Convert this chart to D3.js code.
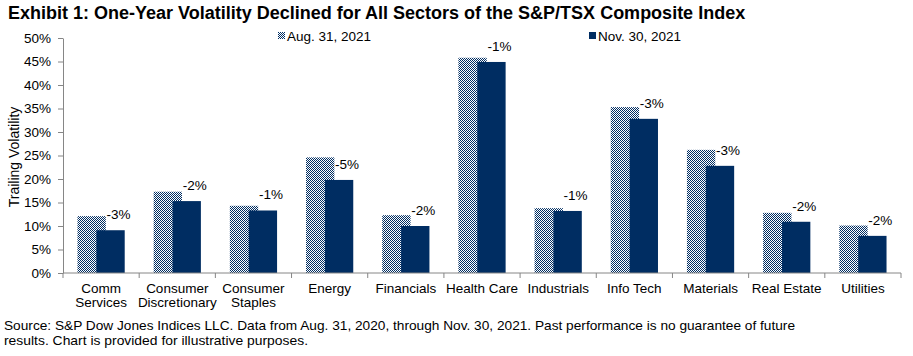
<!DOCTYPE html>
<html><head><meta charset="utf-8">
<script src="https://cdn.jsdelivr.net/npm/d3@7"></script>
<style>body{margin:0;background:#fff}svg{display:block;font-family:"Liberation Sans",Arial,sans-serif}</style>
</head><body><svg id="c" width="913" height="356"></svg>
<script>
const categories = ["Comm\nServices","Consumer\nDiscretionary","Consumer\nStaples","Energy","Financials","Health Care","Industrials","Info Tech","Materials","Real Estate","Utilities"];
const aug2021 = [12.1,17.3,14.3,24.6,12.3,45.8,13.8,35.3,26.2,12.8,10.1];
const nov2021 = [9.1,15.3,13.3,19.8,10.0,44.9,13.2,32.8,22.8,10.9,7.9];
const changeLabels = ["-3%","-2%","-1%","-5%","-2%","-1%","-1%","-3%","-3%","-2%","-2%"];
const seriesNames = ["Aug. 31, 2021","Nov. 30, 2021"];
const yTicks = [0,5,10,15,20,25,30,35,40,45,50];

const navy = "#002D62";
const svg = d3.select("#c");
const defs = svg.append("defs");
const pat = defs.append("pattern").attr("id","chk").attr("patternUnits","userSpaceOnUse")
  .attr("width",2).attr("height",2);
pat.append("rect").attr("width",2).attr("height",2).attr("fill","#fff");
pat.append("rect").attr("x",0).attr("y",0).attr("width",1).attr("height",1).attr("fill",navy);
pat.append("rect").attr("x",1).attr("y",1).attr("width",1).attr("height",1).attr("fill",navy);

const L=63, R=901, T=38, B=273;
const x = d3.scaleBand().domain(d3.range(categories.length)).range([L,R]).padding(0);
const y = d3.scaleLinear().domain([0,50]).range([B,T]);
const bw = x.bandwidth()*0.372, off = x.bandwidth()*0.124;

// title
svg.append("text").attr("x",8).attr("y",19).attr("font-weight","bold").attr("font-size",18)
  .attr("fill","#000").text("Exhibit 1: One-Year Volatility Declined for All Sectors of the S&P/TSX Composite Index");

// bars
const g = svg.append("g");
g.selectAll(".a").data(aug2021).join("rect")
  .attr("x",(d,i)=>x(i)+x.bandwidth()/2-off-bw/2).attr("width",bw)
  .attr("y",d=>y(d)).attr("height",d=>B-y(d)).attr("fill","url(#chk)");
g.selectAll(".n").data(nov2021).join("rect")
  .attr("x",(d,i)=>x(i)+x.bandwidth()/2+off-bw/2).attr("width",bw)
  .attr("y",d=>y(d)).attr("height",d=>B-y(d)).attr("fill",navy);
g.selectAll(".lbl").data(nov2021).join("text")
  .attr("x",(d,i)=>x(i)+x.bandwidth()/2+off+8).attr("y",d=>y(d)-11)
  .attr("text-anchor","middle").attr("font-size",13.5).attr("fill","#000")
  .text((d,i)=>changeLabels[i]);

// axes
const axisColor="#868686";
const yAxis = svg.append("g").attr("transform",`translate(${L},0)`)
  .call(d3.axisLeft(y).tickValues(yTicks).tickSize(5).tickSizeOuter(0).tickFormat(d=>d+"%"));
yAxis.select(".domain").attr("stroke",axisColor);
yAxis.selectAll(".tick line").attr("stroke",axisColor);
yAxis.selectAll(".tick text").attr("font-size",13.5).attr("fill","#000").attr("x",-12)
  .attr("font-family","Liberation Sans, Arial, sans-serif");

const xAxis = svg.append("g").attr("transform",`translate(0,${B})`);
xAxis.append("line").attr("x1",L).attr("x2",R).attr("stroke",axisColor);
xAxis.selectAll(".tk").data(d3.range(categories.length+1)).join("line")
  .attr("x1",i=>L+i*x.bandwidth()).attr("x2",i=>L+i*x.bandwidth()).attr("y1",0).attr("y2",5).attr("stroke",axisColor);
categories.forEach((c,i)=>{
  const t = xAxis.append("text").attr("x",x(i)+x.bandwidth()/2).attr("y",19.5).attr("text-anchor","middle")
    .attr("font-size",13.5).attr("fill","#000");
  c.split("\n").forEach((ln,j)=>t.append("tspan").attr("x",x(i)+x.bandwidth()/2).attr("dy",j?14.5:0).text(ln));
});

// y title
svg.append("text").attr("transform",`translate(19,157) rotate(-90)`).attr("text-anchor","middle")
  .attr("font-size",14).attr("fill","#000").text("Trailing Volatility");

// legend
const leg = [{x:278,t:seriesNames[0],f:"url(#chk)"},{x:589,t:seriesNames[1],f:navy}];
leg.forEach(l=>{
  svg.append("rect").attr("x",l.x).attr("y",32).attr("width",7).attr("height",7).attr("fill",l.f);
  svg.append("text").attr("x",l.x+9).attr("y",41).attr("font-size",13.5).attr("fill","#000").text(l.t);
});

// footnote
svg.append("text").attr("x",4).attr("y",330).attr("font-size",13).attr("fill","#000")
  .attr("textLength",791).attr("lengthAdjust","spacingAndGlyphs")
  .text("Source: S&P Dow Jones Indices LLC. Data from Aug. 31, 2020, through Nov. 30, 2021. Past performance is no guarantee of future");
svg.append("text").attr("x",4).attr("y",345).attr("font-size",13).attr("fill","#000")
  .attr("textLength",304).attr("lengthAdjust","spacingAndGlyphs")
  .text("results. Chart is provided for illustrative purposes.");
</script></body></html>
